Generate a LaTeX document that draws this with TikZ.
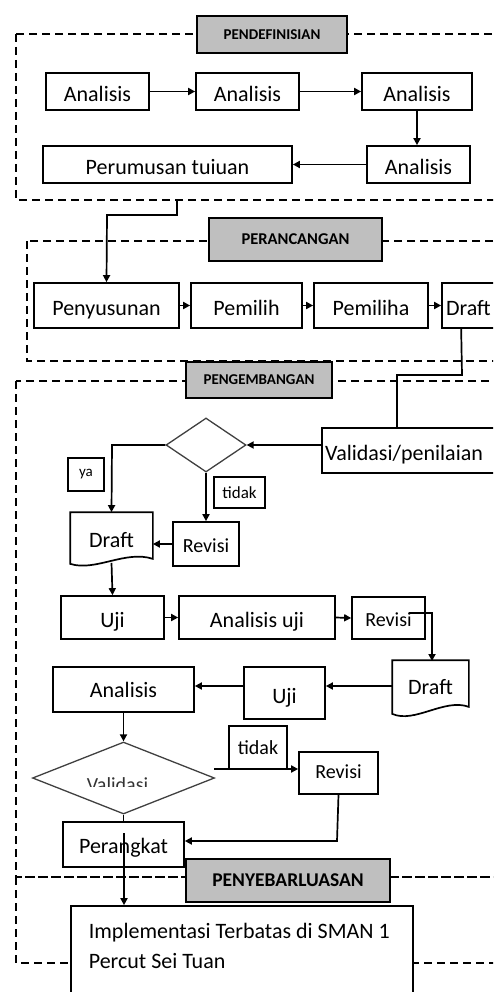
\documentclass[tikz,border=0pt]{standalone}
\usepackage{fontspec}
\setmainfont{Carlito}
\usetikzlibrary{arrows.meta,shapes.geometric,calc}
\begin{document}
\begin{tikzpicture}[x=1pt,y=-1pt,
  line width=1.7pt,
  fnt/.style={font=\fontsize{#1}{#1}\selectfont},
  lowtext/.style={text height=21pt,text depth=1pt},
  stepbox/.style={draw,fill=white,inner sep=0pt,fnt=22,lowtext},
  phase/.style={draw,fill=black!25,inner sep=0pt,font=\bfseries\fontsize{#1}{#1}\selectfont},
  frame/.style={draw,dashed,dash pattern=on 8pt off 5pt,line width=1.6pt},
  decide/.style={diamond,draw=black!75,line width=1.3pt,fill=white,inner sep=0pt,aspect=1.5},
  tag/.style={draw,fill=white,inner sep=0pt},
  arr/.style={-{Triangle[length=7pt,width=7pt]}}
]
\useasboundingbox (0,0) rectangle (493,992);
\clip (0,0) rectangle (493,992);

% ---------- dashed phase frames ----------
\draw[frame] (16,34) rectangle (530,200);
\draw[frame] (27,241) rectangle (530,361);
\draw[frame] (16,381) rectangle (530,877);
\draw[frame] (16,877) rectangle (530,963);

% ---------- phase titles ----------
\node[phase=15,minimum width=150pt,minimum height=37pt] (L1) at (272,34.5) {PENDEFINISIAN};
\node[phase=16.5,minimum width=173pt,minimum height=43pt] (L2) at (295.5,239.5) {PERANCANGAN};
\node[phase=15,minimum width=146pt,minimum height=36pt] (L3) at (259,380) {PENGEMBANGAN};

% ---------- Pendefinisian ----------
\node[stepbox,minimum width=103pt,minimum height=37pt] (a1) at (97.5,91.5) {Analisis};
\node[stepbox,minimum width=103pt,minimum height=37pt] (a2) at (247.5,91.5) {Analisis};
\node[stepbox,minimum width=110pt,minimum height=37pt] (a3) at (417,91.5) {Analisis};
\node[stepbox,minimum width=103pt,minimum height=37pt] (a4) at (418.5,164.5) {Analisis};
\node[stepbox,minimum width=249pt,minimum height=37pt] (tuj) at (167.5,164.5) {Perumusan tuiuan};

\draw[arr] (a1.east) -- (a2.west);
\draw[arr] (a2.east) -- (a3.west);
\draw[arr] (a3.south) -- (a3.south |- a4.north);
\draw[arr] (a4.west) -- (tuj.east);

% ---------- Perancangan ----------
\node[stepbox,minimum width=145pt,minimum height=45pt] (pen) at (106.5,305.5) {Penyusunan};
\node[stepbox,minimum width=111pt,minimum height=45pt] (pm1) at (246.5,305.5) {Pemilih};
\node[stepbox,minimum width=114pt,minimum height=45pt] (pm2) at (371,305.5) {Pemiliha};
\node[stepbox,minimum width=118pt,minimum height=45pt,text width=110pt,align=left] (dr1) at (501,305.5) {Draft};

\coordinate (c1) at (177,200);
\draw[arr] (c1) -- (177,215) -- (107,215) -- (pen.north);
\draw[arr] (pen.east) -- (pm1.west);
\draw[arr] (pm1.east) -- (pm2.west);
\draw[arr] (pm2.east) -- (dr1.west);

% ---------- Pengembangan ----------
\node[stepbox,minimum width=238pt,minimum height=45pt,text width=232pt,align=left] (val) at (441,450.5) {Validasi/penilaian};
\coordinate (dr1b) at ($(dr1.south west)+(20,0)$);
\draw (dr1b) -- (462,375) -- (397,375) -- (397,428);

\node[decide,minimum width=80pt,minimum height=54pt] (d1) at (206,445) {};
\draw[arr] (val.west |- d1.east) -- (d1.east);

\node[tag,minimum width=36pt,minimum height=33pt,fnt=15] (ya) at (86,474.5) {ya};
\node[tag,minimum width=51pt,minimum height=31pt,fnt=17] (tdk1) at (239.5,492.5) {tidak};

% document shape: Draft
\node[fnt=22,lowtext,minimum width=81pt,minimum height=48pt,inner sep=0pt] (dr2) at (111.5,537) {Draft};
\draw (dr2.north west) -- (dr2.north east) -- ($(dr2.south east)+(0,-3)$)
  .. controls ($(dr2.south)+(14,-12)$) and ($(dr2.south)+(-16,10)$) .. ($(dr2.south west)+(0,2)$) -- cycle;
\node[stepbox,minimum width=66pt,minimum height=44pt,fnt=20,text height=17pt] (rv1) at (206,544) {Revisi};

\draw[arr] (d1.west) -- (112,445) -- (dr2.north);
\draw[arr] (d1.south) -- (rv1.north);
\draw[arr] (rv1.west) -- (dr2.east |- rv1.west);

\node[stepbox,minimum width=103pt,minimum height=43pt] (uji1) at (112.5,617.5) {Uji};
\node[stepbox,minimum width=156pt,minimum height=43pt] (anu) at (257,617.5) {Analisis uji};
\node[stepbox,minimum width=73pt,minimum height=42pt,fnt=20,text height=17pt] (rv2) at (388.5,618) {Revisi};

\draw[arr] ($(dr2.south)+(0,1)$) -- (uji1.north);
\draw[arr] (uji1.east) -- (anu.west);
\draw[arr] (anu.east) -- (rv2.west);

% document shape: Draft
\node[fnt=22,text height=17pt,text depth=1pt,minimum width=75pt,minimum height=50pt,inner sep=0pt] (dr3) at (430.5,686) {Draft};
\draw (dr3.north west) -- (dr3.north east) -- ($(dr3.south east)+(0,-5)$)
  .. controls ($(dr3.south)+(14,-14)$) and ($(dr3.south)+(-16,12)$) .. ($(dr3.south west)+(0,2)$) -- cycle;
\coordinate (rv2in) at (409,613);
\draw[arr] (rv2in) -- (432,613) -- (432,661);

\node[stepbox,minimum width=81pt,minimum height=52pt] (uji2) at (284.5,693) {Uji};
\node[stepbox,minimum width=141pt,minimum height=45pt,text height=17pt] (ana) at (123.5,689.5) {Analisis};

\draw[arr] (dr3.west) -- (dr3.west -| uji2.east);
\draw[arr] (uji2.west |- dr3.west) -- (ana.east |- dr3.west);

\node[decide,minimum width=182pt,minimum height=72pt] (d2) at (123.5,778) {};
\begin{scope}
  \clip (60,770) rectangle (190,786);
  \node[fnt=20,anchor=base,inner sep=0pt,text=black!80] (vtxt) at (117.5,791) {Validasi};
\end{scope}
\draw[arr] (ana.south) -- (d2.north);

\node[tag,minimum width=58pt,minimum height=43pt,fnt=20] (tdk2) at (258,747.5) {tidak};
\node[stepbox,minimum width=79pt,minimum height=42pt,fnt=20,text height=14pt,text depth=4pt] (rv3) at (338.5,773) {Revisi};
\coordinate (d2r) at (214,769);
\draw[arr,line width=2.4pt] (d2r) -- (rv3.west |- d2r);

\node[stepbox,minimum width=121pt,minimum height=45pt,text height=18pt] (per) at (123.5,844.5) {Perangkat};
\draw (d2.south) -- (per.north);
\draw[arr] (rv3.south) -- (337,841) -- (per.east |- 0,841);

% ---------- Penyebarluasan ----------
\node[phase=19.5,minimum width=204pt,minimum height=43pt] (L4) at (288,880.5) {PENYEBARLUASAN};
\node[draw,fill=white,minimum width=342pt,minimum height=110pt,inner sep=0pt] (impl) at (242,961) {};
\node[anchor=north west,align=left,inner sep=0pt,font=\fontsize{22}{30}\selectfont] (impltxt) at (88,922) {Implementasi Terbatas di SMAN 1\\Percut Sei Tuan};
\coordinate (perin) at (124,833);
\draw[arr] (perin) -- (impl.north -| perin);
\end{tikzpicture}
\end{document}
